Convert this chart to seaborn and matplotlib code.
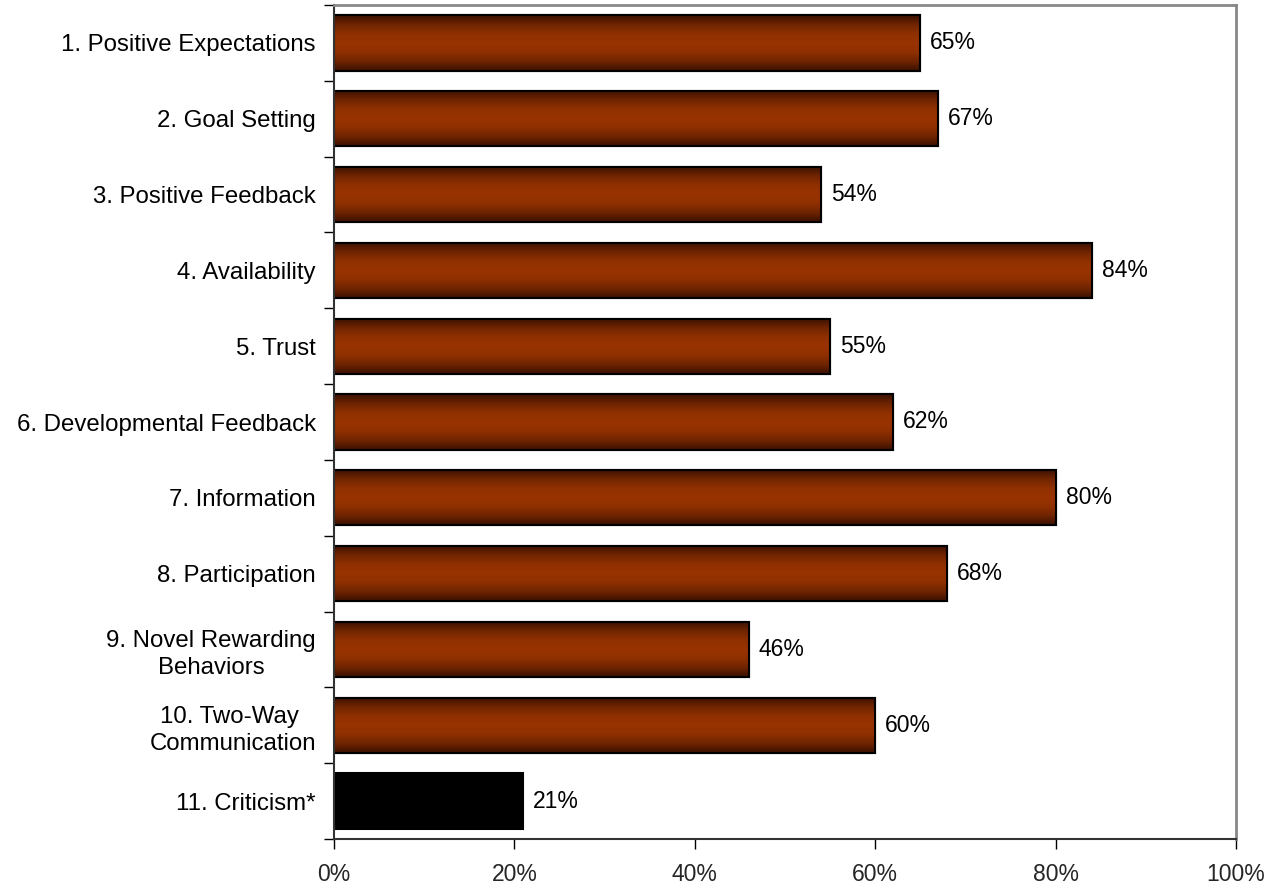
import numpy as np
import pandas as pd
import matplotlib
matplotlib.use("Agg")
import matplotlib.pyplot as plt
from matplotlib.colors import LinearSegmentedColormap
from matplotlib.ticker import FixedLocator, PercentFormatter
import seaborn as sns

categories = [
    "1. Positive Expectations",
    "2. Goal Setting",
    "3. Positive Feedback",
    "4. Availability",
    "5. Trust",
    "6. Developmental Feedback",
    "7. Information",
    "8. Participation",
    "9. Novel Rewarding\nBehaviors",
    "10. Two-Way \nCommunication",
    "11. Criticism*",
]
values = [65, 67, 54, 84, 55, 62, 80, 68, 46, 60, 21]
x_ticks = [0, 20, 40, 60, 80, 100]

sns.set_theme(style="white")
plt.rcParams["font.family"] = ["Liberation Sans", "DejaVu Sans"]

df = pd.DataFrame({"cat": categories, "val": values})

fig = plt.figure(figsize=(12.85, 8.85), dpi=100)
ax = fig.add_axes([334 / 1285, 1 - 839 / 885, (1236 - 334) / 1285, (839 - 5) / 885])

sns.barplot(data=df, x="val", y="cat", orient="h", color="#993300",
            width=0.73, edgecolor="black", linewidth=1.5, ax=ax, saturation=1)

cmap = LinearSegmentedColormap.from_list(
    "g", ["#3a1000", "#6e2400", "#8f3000", "#993300", "#8f3000", "#6e2400", "#3a1000"])
grad = np.linspace(0, 1, 256).reshape(-1, 1)
patches = list(ax.patches)
for i, p in enumerate(patches):
    if i == len(patches) - 1:
        p.set_facecolor("black")
        continue
    x0, y0 = p.get_x(), p.get_y()
    w, h = p.get_width(), p.get_height()
    im = ax.imshow(grad, cmap=cmap, aspect="auto",
                   extent=[x0, x0 + w, y0 + h, y0], zorder=p.get_zorder() + 0.1,
                   interpolation="bilinear")
    im.set_clip_path(p)
    edge = plt.Rectangle((x0, y0), w, h, fill=False, edgecolor="black",
                         linewidth=1.5, zorder=p.get_zorder() + 0.2)
    ax.add_patch(edge)

for i, v in enumerate(values):
    ax.text(v + 1.1, i, f"{v}%", va="center", ha="left", fontsize=16.5, color="black")

ax.set_xlim(0, 100)
ax.set_ylim(len(categories) - 0.5, -0.5)
ax.xaxis.set_major_locator(FixedLocator(x_ticks))
ax.xaxis.set_major_formatter(PercentFormatter(decimals=0))
ax.set_xlabel("")
ax.set_ylabel("")

ax.set_yticks(np.arange(len(categories)))
ax.set_yticklabels(categories)
ax.set_yticks(np.arange(-0.5, len(categories), 1), minor=True)
ax.tick_params(axis="y", which="major", length=0, pad=13, labelsize=17.3, colors="black")
ax.tick_params(axis="y", which="minor", length=7, width=1, direction="out", color="black", left=True)
ax.tick_params(axis="x", which="major", length=7, width=1, direction="out", color="black",
               bottom=True, pad=10, labelsize=16.5)
for lbl in ax.get_yticklabels():
    lbl.set_multialignment("center")
    lbl.set_linespacing(1.3)

for s in ["left", "bottom"]:
    ax.spines[s].set_color("#333333")
    ax.spines[s].set_linewidth(1.5)
for s in ["top", "right"]:
    ax.spines[s].set_color("#888888")
    ax.spines[s].set_linewidth(2)
    ax.spines[s].set_visible(True)

fig.savefig("out.png", dpi=100, facecolor="white")
